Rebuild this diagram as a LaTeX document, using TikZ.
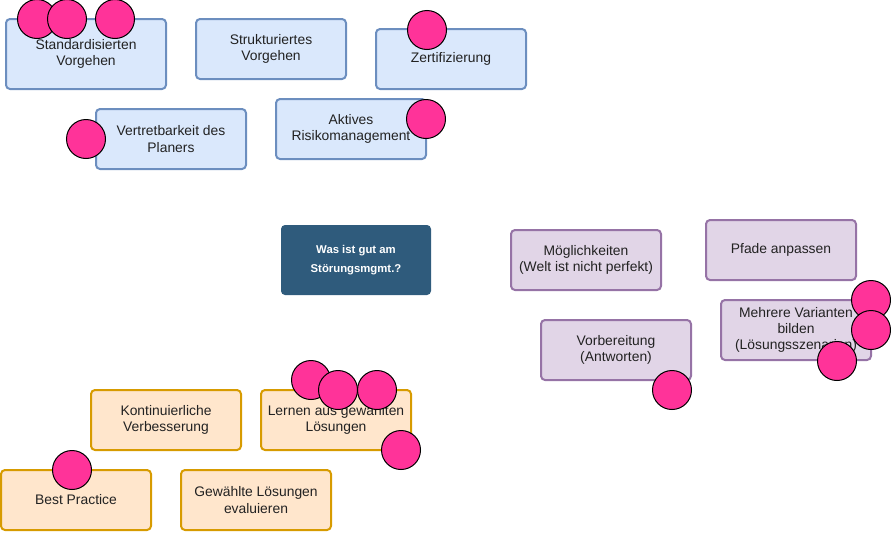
\documentclass[tikz,border=0pt]{standalone}
\usepackage{fontspec}
\setmainfont{Liberation Sans}
\definecolor{bluefill}{HTML}{DAE8FC}
\definecolor{blueline}{HTML}{6C8EBF}
\definecolor{purplefill}{HTML}{E1D5E7}
\definecolor{purpleline}{HTML}{9673A6}
\definecolor{orangefill}{HTML}{FFE6CC}
\definecolor{orangeline}{HTML}{D79B00}
\definecolor{darkfill}{HTML}{2F5B7C}
\definecolor{dotpink}{HTML}{FF3399}
\definecolor{textgrey}{HTML}{222222}
\begin{document}
\begin{tikzpicture}[x=0.75pt,y=-0.75pt,
  box/.style={draw, line width=1.5pt, rounded corners=3pt, minimum width=112.5pt, minimum height=45pt, align=center, text=textgrey, font=\fontsize{10.4}{12.2}\selectfont},
  bluebox/.style={box, fill=bluefill, draw=blueline},
  purplebox/.style={box, fill=purplefill, draw=purpleline},
  orangebox/.style={box, fill=orangefill, draw=orangeline},
  dot/.style={circle, draw=black, line width=0.75pt, fill=dotpink, minimum size=29.25pt, inner sep=0pt}]
\useasboundingbox (0,0) rectangle (891,532);
\node[bluebox, minimum width=120pt, minimum height=52.5pt] (standard) at (86,54) {Standardisierten\\Vorgehen};
\node[bluebox] (struktur) at (271,49) {Strukturiertes\\Vorgehen};
\node[bluebox] (zert) at (451,59) {Zertifizierung};
\node[bluebox] (vertret) at (171,139) {Vertretbarkeit des\\Planers};
\node[bluebox] (risiko) at (351,129) {Aktives\\Risikomanagement};
\node[box, draw=none, fill=darkfill, text=white, minimum height=52.5pt, font=\fontsize{8.5}{14.5}\selectfont\bfseries] (frage) at (356,260) {Was ist gut am\\Störungsmgmt.?};
\node[purplebox] (moeglich) at (586,260) {Möglichkeiten\\(Welt ist nicht perfekt)};
\node[purplebox] (pfade) at (781,250) {Pfade anpassen};
\node[purplebox] (varianten) at (796,330) {Mehrere Varianten\\bilden\\(Lösungsszenarien)};
\node[purplebox] (vorbereit) at (616,350) {Vorbereitung\\(Antworten)};
\node[orangebox] (kontinu) at (166,420) {Kontinuierliche\\Verbesserung};
\node[orangebox] (lernen) at (336,420) {Lernen aus gewählten\\Lösungen};
\node[orangebox] (best) at (76,500) {Best Practice};
\node[orangebox] (evaluier) at (256,500) {Gewählte Lösungen\\evaluieren};
\node[dot] (d1) at (37,19) {};
\node[dot] (d2) at (67,19) {};
\node[dot] (d3) at (115,19) {};
\node[dot] (d4) at (427,30) {};
\node[dot] (d5) at (86,139) {};
\node[dot] (d6) at (426,119) {};
\node[dot] (d7) at (311,380) {};
\node[dot] (d8) at (338,390) {};
\node[dot] (d9) at (377,390) {};
\node[dot] (d10) at (401,450) {};
\node[dot] (d11) at (871,300) {};
\node[dot] (d12) at (871,330) {};
\node[dot] (d13) at (837,361) {};
\node[dot] (d14) at (672,390) {};
\node[dot] (d15) at (72,470) {};
\end{tikzpicture}
\end{document}
